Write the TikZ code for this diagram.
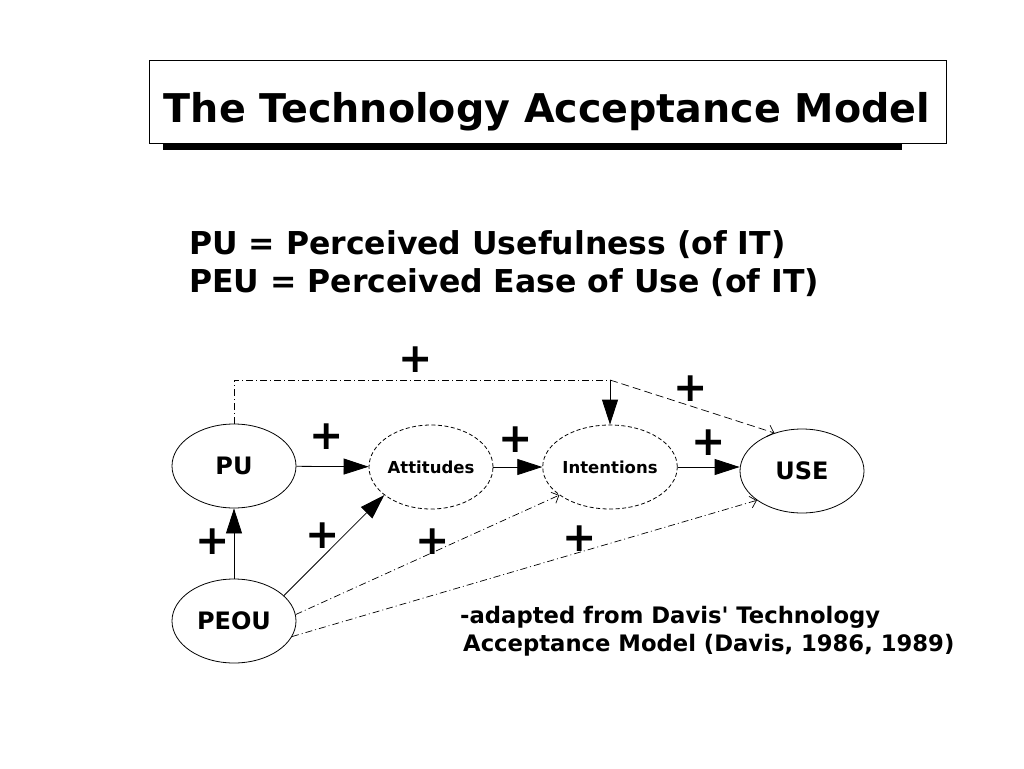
\documentclass[tikz,border=0pt]{standalone}
\usepackage{fontspec}
\setmainfont{DejaVu Sans}
\usetikzlibrary{shapes.geometric,arrows.meta}

\begin{document}
\begin{tikzpicture}[x=1pt,y=-1pt,font=\bfseries,
	construct/.style={draw, ellipse, minimum width=124pt, minimum height=84pt, inner sep=0pt,
		line width=0.8pt, font=\bfseries\fontsize{24}{28}\selectfont},
	mediator/.style={construct, dash pattern=on 4pt off 2.5pt, font=\bfseries\fontsize{16.5}{20}\selectfont},
	effect/.style={-{Triangle[length=25pt,width=16pt]}, line width=0.8pt},
	indirect/.style={-{Straight Barb[length=6pt,width=12pt]}, line width=0.7pt,
		dash pattern=on 7pt off 3pt on 1pt off 3pt},
	sign/.style={font=\bfseries\fontsize{41}{41}\selectfont, inner sep=0pt},
	plain/.style={anchor=base west, inner sep=0pt}]

	\useasboundingbox[fill=white] (0,0) rectangle (1024,768);

	% Titolo con ombra
	\fill (163,143) rectangle (902,150);
	\draw[line width=0.8pt, fill=white] (149,60) rectangle (946,143);
	\node[anchor=base, inner sep=0pt, font=\bfseries\fontsize{39.6}{44}\selectfont] (title) at (547,122)
		{The Technology Acceptance Model};

	% Legenda
	\node[plain, font=\bfseries\fontsize{31.5}{38}\selectfont] (pudef) at (189,254) {PU = Perceived Usefulness (of IT)};
	\node[plain, font=\bfseries\fontsize{31.5}{38}\selectfont] (peudef) at (189,292) {PEU = Perceived Ease of Use (of IT)};

	% Costrutti
	\node[construct] (pu) at (234,466) {PU};
	\node[construct] (peou) at (234,621) {PEOU};
	\node[mediator] (att) at (431,467) {Attitudes};
	\node[mediator] (int) at (610,467) {Intentions};
	\node[construct] (use) at (802,471) {USE};

	% Effetti diretti
	\draw[effect] (pu) -- (att);
	\draw[effect] (att) -- (int);
	\draw[effect] (int.east) -- (int.east -| use.west);
	\draw[effect] (peou) -- (pu);
	\draw[effect] (peou.27) -- (att.211);

	% Effetti tratteggiati
	\coordinate (split) at (610,380);
	\draw[line width=0.7pt, dash pattern=on 7pt off 3pt on 1pt off 3pt] (pu.north) |- (split);
	\draw[effect] (split) -- (int.north);
	\draw[-{Straight Barb[length=6pt,width=12pt]}, line width=0.7pt, dash pattern=on 8pt off 4pt]
		(split) -- (use.126);
	\draw[indirect] (peou.6) -- (int.209);
	\draw[indirect] (peou.-15) -- (use.213);

	% Segni
	\node[sign] (s1) at (416,360) {+};
	\node[sign] (s2) at (691,389) {+};
	\node[sign] (s3) at (327,437) {+};
	\node[sign] (s4) at (516,440) {+};
	\node[sign] (s5) at (709,443) {+};
	\node[sign] (s6) at (213,542) {+};
	\node[sign] (s7) at (323,536) {+};
	\node[sign] (s8) at (433,542) {+};
	\node[sign] (s9) at (580,539) {+};

	% Fonte
	\node[plain, font=\bfseries\fontsize{22.7}{28}\selectfont] (src1) at (460,623) {-adapted from Davis\textquotesingle{} Technology};
	\node[plain, font=\bfseries\fontsize{22.7}{28}\selectfont] (src2) at (463,651) {Acceptance Model (Davis, 1986, 1989)};
\end{tikzpicture}
\end{document}
